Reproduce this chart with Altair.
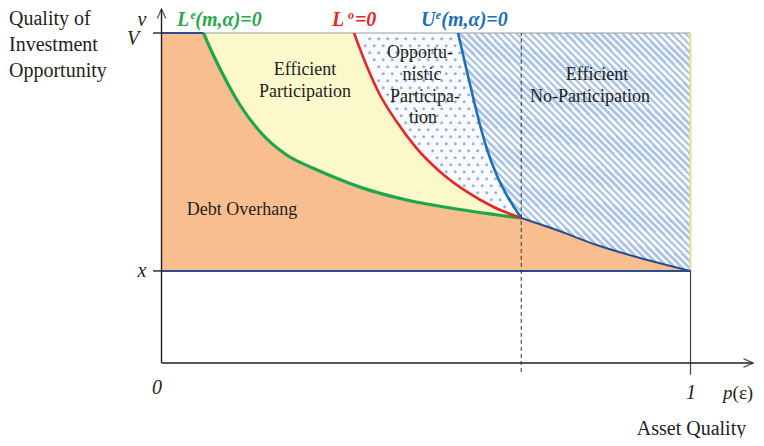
import altair as alt
import pandas as pd
import numpy as np

# ---------------- values ----------------
V_TOP = 1.0        # V
X_LEVEL = 0.279    # x
P_STAR = 0.68      # p where the three curves meet (dashed line)

# L^e(m,α)=0  (green)
green_p = [0.0794, 0.0979, 0.1233, 0.1484, 0.1862, 0.2367, 0.2870, 0.3312, 0.3752, 0.4635, 0.5580, 0.68]
green_v = [1.0, 0.9333, 0.8524, 0.7818, 0.7009, 0.6303, 0.5900, 0.5597, 0.5330, 0.4939, 0.4667, 0.4394]
# L^o=0  (red)
red_p = [0.3639, 0.3879, 0.4130, 0.4446, 0.4824, 0.5265, 0.5769, 0.6267, 0.68]
red_v = [1.0, 0.9000, 0.8121, 0.7312, 0.6506, 0.5797, 0.5191, 0.4736, 0.4394]
# U^e(m,α)=0  (blue)
blue_p = [0.5605, 0.5745, 0.5894, 0.6021, 0.6147, 0.6336, 0.6526, 0.68]
blue_v = [1.0, 0.9030, 0.8021, 0.7212, 0.6506, 0.5697, 0.5091, 0.4394]
# lower boundary from the meeting point to (1, x)
low_p = [0.68, 0.7471, 0.8227, 0.9045, 1.0]
low_v = [0.4394, 0.4030, 0.3576, 0.3182, 0.279]

region_labels = ["Efficient", "Participation", "Opportu-", "nistic", "Participa-", "tion",
                 "Efficient", "No-Participation", "Debt Overhang"]
left_title = ["Quality of", "Investment", "Opportunity"]
x_title = "Asset Quality"

# ---------------- layout ----------------
XMIN, XMAX = -0.2902, 1.1238
YMIN, YMAX = -0.2273, 1.0758
xs = alt.Scale(domain=[XMIN, XMAX], nice=False, zero=False)
ys = alt.Scale(domain=[YMIN, YMAX], nice=False, zero=False)
SERIF = "Liberation Serif"
INK = "#231F20"
NAVY = "#2B4C8C"
SMOOTH = "monotone"


def X(f="p"):
    return alt.X(f"{f}:Q", scale=xs, axis=None)


def Y(f="v"):
    return alt.Y(f"{f}:Q", scale=ys, axis=None)


# background rectangle (efficient participation colour)
rect_df = pd.DataFrame({"p": [0.0], "p2": [1.0], "v": [X_LEVEL], "v2": [V_TOP]})
rect = alt.Chart(rect_df).mark_rect(color="#FBF8CC").encode(
    x=X(), x2="p2:Q", y=Y(), y2="v2:Q")

# opportunistic region (right of red curve), pale background
opp_df = pd.DataFrame({"p": red_p + [P_STAR], "v": red_v + [X_LEVEL]})
opp_df["p1"] = 1.0
opp = alt.Chart(opp_df).mark_area(orient="horizontal", color="#F8FAFD",
                                  interpolate=SMOOTH).encode(y=Y(), x=X(), x2="p1:Q")

# dotted texture inside the opportunistic region
rv = np.array(red_v[::-1]); rp = np.array(red_p[::-1])
dots = []
for i, vv in enumerate(np.arange(0.452, 0.99, 7.0 / 330)):
    off = (i % 2) * 4.5 / 529
    for pp in np.arange(0.30 + off, 0.70, 9.0 / 529):
        if pp > np.interp(vv, rv, rp) + 0.009:
            dots.append({"p": pp, "v": vv})
dots_df = pd.DataFrame(dots)
dotl = alt.Chart(dots_df).mark_point(filled=True, shape="circle", size=9,
                                      color="#8EA9D8", opacity=0.9).encode(x=X(), y=Y())

# hatched no-participation region (stripes via a hard-stop gradient)
N = 66
stops = []
for k in range(N):
    a = k / N
    b = (k + 0.5) / N
    c = (k + 1) / N
    stops += [{"offset": a, "color": "#ADC5E7"}, {"offset": b, "color": "#ADC5E7"},
              {"offset": b, "color": "#F7F9FD"}, {"offset": c, "color": "#F7F9FD"}]
hatch_fill = {"gradient": "linear", "x1": 0, "y1": 1, "x2": 1, "y2": 0, "stops": stops}
hat_df = pd.DataFrame({"p": blue_p + [P_STAR], "v": blue_v + [X_LEVEL]})
hat_df["p1"] = 1.0
hatch = alt.Chart(hat_df).mark_area(orient="horizontal", fill=hatch_fill,
                                    interpolate=SMOOTH).encode(y=Y(), x=X(), x2="p1:Q")

# debt overhang region (two pieces so the kink at the meeting point stays sharp)
or1 = pd.DataFrame({"p": [0.0] + green_p, "v": [V_TOP] + green_v})
or1["base"] = X_LEVEL
or2 = pd.DataFrame({"p": low_p, "v": low_v})
or2["base"] = X_LEVEL
orange1 = alt.Chart(or1).mark_area(color="#F8BE8F", interpolate=SMOOTH).encode(
    x=X(), y=Y(), y2="base:Q")
orange2 = alt.Chart(or2).mark_area(color="#F8BE8F", interpolate=SMOOTH).encode(
    x=X(), y=Y(), y2="base:Q")


# curves
def curve(ps, vs, color, w):
    d = pd.DataFrame({"p": ps, "v": vs})
    return alt.Chart(d).mark_line(color=color, strokeWidth=w, interpolate=SMOOTH).encode(
        x=X(), y=Y())


low_line = curve(low_p, low_v, NAVY, 2)
green_line = curve(green_p, green_v, "#1FA54A", 3.2)
red_line = curve(red_p, red_v, "#E8262A", 2.6)
blue_line = curve(blue_p, blue_v, "#1B70B8", 2.6)


# rules
def rules(rows, color, w, dash=None):
    d = pd.DataFrame(rows, columns=["p", "v", "p2", "v2"])
    kw = dict(color=color, strokeWidth=w)
    if dash:
        kw["strokeDash"] = dash
    return alt.Chart(d).mark_rule(**kw).encode(x=X(), y=Y(), x2="p2:Q", y2="v2:Q")


top_thin = rules([[0.0, V_TOP, 1.0, V_TOP]], "#9A9A9A", 1)
top_left = rules([[0.0, V_TOP, green_p[0], V_TOP]], NAVY, 2)
x_line = rules([[0.0, X_LEVEL, 1.0, X_LEVEL]], NAVY, 2)
right_edge = rules([[1.0, X_LEVEL, 1.0, V_TOP]], "#E9E08A", 2)
one_tick = rules([[1.0, -0.036, 1.0, X_LEVEL]], "#444444", 1.2)
dashed = rules([[P_STAR, -0.027, P_STAR, V_TOP]], "#333333", 1, [4, 3])
axes = rules([[0.0, 0.0, 0.0, 1.0727], [0.0, 0.0, 1.1181, 0.0],
              [-0.016, V_TOP, 0.0, V_TOP], [-0.016, X_LEVEL, 0.0, X_LEVEL]], "#231F20", 1.4)

arrow_up = alt.Chart(pd.DataFrame({"p": [0.0], "v": [1.0727]})).mark_point(
    shape="M-0.45,1L0,0L0.45,1", size=360, filled=False, color="#231F20", strokeWidth=1.4
).encode(x=X(), y=Y())
arrow_right = alt.Chart(pd.DataFrame({"p": [1.1181], "v": [0.0]})).mark_point(
    shape="M-1,-0.45L0,0L-1,0.45", size=360, filled=False, color="#231F20", strokeWidth=1.4
).encode(x=X(), y=Y())


# ---------------- text ----------------
def texts(rows, **kw):
    d = pd.DataFrame(rows, columns=["p", "v", "t"])
    base = dict(font=SERIF, color=INK, baseline="middle", align="center")
    base.update(kw)
    return alt.Chart(d).mark_text(**base).encode(x=X(), y=Y(), text="t:N")


left_txt = texts([[-0.2883, 1.0424, left_title[0]], [-0.2883, 0.9636, left_title[1]],
                  [-0.2883, 0.8848, left_title[2]]], fontSize=20, align="left")
ital = texts([[-0.0369, 1.0394, "v"], [-0.0539, 0.9818, "V"], [-0.0369, 0.2788, "x"],
              [-0.0085, -0.0758, "0"], [1.0009, -0.0909, "1"]],
             fontSize=20, fontStyle="italic")
p_lab = texts([[1.0615, -0.0909, "p"]], fontSize=19, fontStyle="italic", align="left")
eps_lab = texts([[1.0795, -0.0909, "(ε)"]], fontSize=19, align="left")
xtitle = texts([[1.0019, -0.2000, x_title]], fontSize=20)
reg = texts([[0.2713, 0.8879, region_labels[0]], [0.2713, 0.8212, region_labels[1]],
             [0.4887, 0.9394, region_labels[2]], [0.4924, 0.8727, region_labels[3]],
             [0.4981, 0.8061, region_labels[4]], [0.4943, 0.7424, region_labels[5]],
             [0.8233, 0.8727, region_labels[6]], [0.8100, 0.8061, region_labels[7]],
             [0.1522, 0.4636, region_labels[8]]], fontSize=18)


def curve_label(big_rows, sup_rows, color):
    big = texts(big_rows, fontSize=20, fontStyle="italic", fontWeight="bold", color=color,
                align="left", baseline="alphabetic")
    sup = texts(sup_rows, fontSize=12, fontStyle="italic", fontWeight="bold", color=color,
                align="left", baseline="alphabetic")
    return big + sup


LAB_V = 1.0212    # baseline of the curve labels
SUP_V = 1.0424    # baseline of their superscripts
g_lab = curve_label([[0.0293, LAB_V, "L"], [0.0640, LAB_V, "(m,α)=0"]],
                    [[0.0548, SUP_V, "e"]], "#2BA84A")
r_lab = curve_label([[0.3223, LAB_V, "L"], [0.3656, LAB_V, "=0"]],
                    [[0.3527, SUP_V, "o"]], "#E8262A")
b_lab = curve_label([[0.4905, LAB_V, "U"], [0.5290, LAB_V, "(m,α)=0"]],
                    [[0.5184, SUP_V, "e"]], "#1B70B8")

chart = alt.layer(
    rect, opp, dotl, hatch, orange1, orange2, top_thin, right_edge,
    low_line, green_line, red_line, blue_line, top_left, x_line,
    dashed, one_tick, axes, arrow_up, arrow_right,
    left_txt, ital, p_lab, eps_lab, xtitle, reg, g_lab, r_lab, b_lab
).properties(
    width=748, height=430, padding=0, autosize="none", background="white"
).configure_view(stroke=None)

chart.save("out.html", embed_options={"renderer": "svg", "actions": False})
